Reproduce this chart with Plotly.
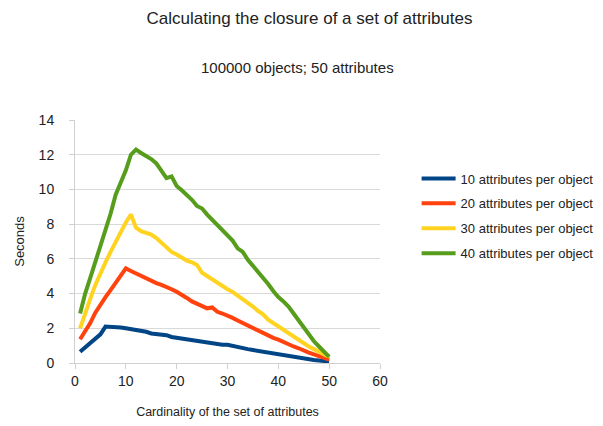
import plotly.graph_objects as go

cardinality = list(range(1, 51))

attrs_10 = [0.65, 0.9, 1.2, 1.45, 1.65, 2.1, 2.1, 2.05, 2.05, 2.0,
            1.95, 1.9, 1.88, 1.8, 1.7, 1.68, 1.65, 1.6, 1.5, 1.45,
            1.45, 1.4, 1.3, 1.25, 1.2, 1.15, 1.12, 1.1, 1.05, 1.05,
            0.98, 0.9, 0.85, 0.8, 0.75, 0.7, 0.62, 0.57, 0.52, 0.47,
            0.42, 0.37, 0.33, 0.3, 0.25, 0.2, 0.17, 0.14, 0.11, 0.09]

attrs_20 = [1.37, 1.8, 2.3, 2.9, 3.4, 3.8, 4.2, 4.6, 5.0, 5.45,
            5.3, 5.15, 5.0, 4.85, 4.75, 4.6, 4.5, 4.4, 4.25, 4.1,
            3.95, 3.75, 3.55, 3.4, 3.3, 3.15, 3.2, 2.95, 2.85, 2.75,
            2.6, 2.45, 2.3, 2.15, 2.0, 1.85, 1.75, 1.6, 1.45, 1.35,
            1.2, 1.1, 0.95, 0.85, 0.7, 0.6, 0.5, 0.4, 0.3, 0.2]

attrs_30 = [2.0, 2.9, 3.7, 4.5, 5.2, 5.8, 6.4, 7.0, 7.6, 8.1,
            8.55, 7.8, 7.6, 7.5, 7.4, 7.2, 6.95, 6.7, 6.4, 6.25,
            6.05, 5.9, 5.8, 5.65, 5.2, 5.0, 4.8, 4.65, 4.45, 4.25,
            4.1, 3.9, 3.7, 3.5, 3.25, 3.0, 2.8, 2.5, 2.3, 2.1,
            1.9, 1.7, 1.5, 1.3, 1.15, 0.95, 0.8, 0.65, 0.5, 0.35]

attrs_40 = [2.85, 4.0, 4.9, 5.8, 6.8, 7.6, 8.6, 9.7, 10.4, 11.1,
            12.0, 12.3, 12.1, 11.95, 11.75, 11.5, 11.05, 10.65, 10.75, 10.2,
            9.95, 9.7, 9.4, 9.05, 8.9, 8.55, 8.25, 7.95, 7.65, 7.35,
            7.05, 6.6, 6.4, 5.95, 5.6, 5.25, 4.95, 4.55, 4.15, 3.8,
            3.55, 3.25, 2.85, 2.45, 2.05, 1.65, 1.25, 0.95, 0.65, 0.35]

series_names = ["10 attributes per object", "20 attributes per object",
                "30 attributes per object", "40 attributes per object"]
series_values = [attrs_10, attrs_20, attrs_30, attrs_40]
colors = ["#004586", "#ff420e", "#ffd320", "#579d1c"]

x_ticks = [0, 10, 20, 30, 40, 50, 60]
y_ticks = [0, 2, 4, 6, 8, 10, 12, 14]

FONT = "Liberation Sans, Arial, sans-serif"
TXT = "#222222"

fig = go.Figure()
for i, (name, vals, col) in enumerate(zip(series_names, series_values, colors)):
    fig.add_trace(go.Scatter(x=cardinality, y=vals, mode="lines", name=name,
                             legendgroup=f"g{i}",
                             line=dict(color=col, width=4)))

fig.update_layout(
    width=603, height=426,
    margin=dict(l=67, r=214, t=112, b=71),
    paper_bgcolor="white", plot_bgcolor="white",
    font=dict(family=FONT, color=TXT),
    title=dict(text="Calculating the closure of a set of attributes",
               x=0.5, xref="container", xanchor="center",
               y=1 - 10 / 426, yref="container", yanchor="middle",
               font=dict(size=17, color=TXT, family=FONT)),
    showlegend=True,
    legend=dict(x=1.12, xanchor="left", y=(355 - 208) / 243, yanchor="middle",
                font=dict(size=13, color=TXT, family=FONT),
                bgcolor="rgba(0,0,0,0)", tracegroupgap=5, itemwidth=34),
    annotations=[dict(text="100000 objects; 50 attributes", xref="paper", yref="paper",
                      x=(302 - 67) / 322, y=(355 - 59) / 243, xanchor="center", yanchor="middle",
                      showarrow=False, font=dict(size=15, color=TXT, family=FONT))],
)

fig.update_xaxes(range=[0, 60], tickvals=x_ticks, showgrid=False, automargin=False,
                 showline=True, linecolor="#d0d0d0", linewidth=1,
                 ticks="outside", ticklen=5, tickcolor="#d0d0d0",
                 tickfont=dict(size=14, color=TXT, family=FONT),
                 zeroline=False,
                 title=dict(text="Cardinality of the set of attributes",
                            font=dict(size=12.5, color=TXT, family=FONT), standoff=19))
fig.update_yaxes(range=[0, 14], tickvals=y_ticks, showgrid=True, gridcolor="#d9d9d9", gridwidth=1,
                 automargin=False,
                 showline=True, linecolor="#d0d0d0", linewidth=1,
                 ticks="outside", ticklen=5, tickcolor="#d0d0d0", ticklabelstandoff=12,
                 tickfont=dict(size=14, color=TXT, family=FONT),
                 zeroline=False,
                 title=dict(text="Seconds", font=dict(size=13, color=TXT, family=FONT), standoff=11))

fig.write_html("out.html")
